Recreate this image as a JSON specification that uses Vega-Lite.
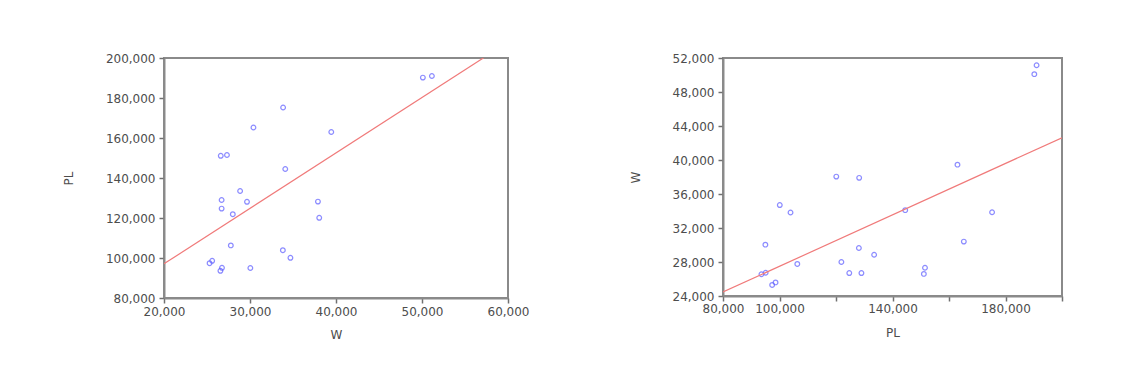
{
  "$schema": "https://vega.github.io/schema/vega-lite/v6.json",
  "background": "white",
  "padding": {"left": 61, "top": 51, "right": 10, "bottom": 10},
  "autosize": {"type": "pad"},
  "data": {
    "values": [
      {"W": 50100, "PL": 190200},
      {"W": 51150, "PL": 191000},
      {"W": 33850, "PL": 175250},
      {"W": 30400, "PL": 165250},
      {"W": 39450, "PL": 163000},
      {"W": 26600, "PL": 151100},
      {"W": 27320, "PL": 151500},
      {"W": 34100, "PL": 144500},
      {"W": 28850, "PL": 133500},
      {"W": 26700, "PL": 129000},
      {"W": 29650, "PL": 128100},
      {"W": 37900, "PL": 128200},
      {"W": 26700, "PL": 124700},
      {"W": 28000, "PL": 121900},
      {"W": 38050, "PL": 120100},
      {"W": 27770, "PL": 106300},
      {"W": 33820, "PL": 103900},
      {"W": 34700, "PL": 100100},
      {"W": 25600, "PL": 98600},
      {"W": 25300, "PL": 97400},
      {"W": 26740, "PL": 95100},
      {"W": 30040, "PL": 95000},
      {"W": 26560, "PL": 93600}
    ]
  },
  "spacing": 98,
  "hconcat": [
    {
      "width": 344,
      "height": 240,
      "view": {"fill": "white", "stroke": "#8a8a8a", "strokeWidth": 2},
      "layer": [
        {
          "mark": {"type": "point", "shape": "circle", "filled": false, "color": "#5c5cff", "size": 22, "strokeWidth": 1.2},
          "encoding": {
            "x": {"field": "W", "type": "quantitative", "scale": {"domain": [20000, 60000], "nice": false, "zero": false},
              "axis": {"values": [20000, 30000, 40000, 50000, 60000], "tickCount": 20, "format": ",d", "labelOverlap": false, "labelFontSize": 12, "title": "W", "labelPadding": 3, "titlePadding": 12}},
            "y": {"field": "PL", "type": "quantitative", "scale": {"domain": [80000, 200000], "nice": false, "zero": false},
              "axis": {"values": [80000, 100000, 120000, 140000, 160000, 180000, 200000], "tickCount": 20, "format": ",d", "labelOverlap": false, "labelFontSize": 12, "title": "PL", "labelPadding": 4, "titlePadding": 30}}
          }
        },
        {
          "transform": [{"regression": "PL", "on": "W", "extent": [20000, 60000]}],
          "mark": {"type": "line", "color": "#f07a7a", "strokeWidth": 1.2, "clip": true},
          "encoding": {
            "x": {"field": "W", "type": "quantitative"},
            "y": {"field": "PL", "type": "quantitative"}
          }
        }
      ]
    },
    {
      "width": 339,
      "height": 238,
      "view": {"fill": "white", "stroke": "#8a8a8a", "strokeWidth": 2},
      "layer": [
        {
          "mark": {"type": "point", "shape": "circle", "filled": false, "color": "#5c5cff", "size": 22, "strokeWidth": 1.2},
          "encoding": {
            "x": {"field": "PL", "type": "quantitative", "scale": {"domain": [80000, 200000], "nice": false, "zero": false},
              "axis": {"values": [80000, 100000, 120000, 140000, 160000, 180000, 200000], "tickCount": 20, "format": ",d", "labelOverlap": false, "labelFontSize": 12,
                "labelExpr": "datum.value == 120000 || datum.value == 160000 || datum.value == 200000 ? '' : datum.label",
                "title": "PL", "labelPadding": 2, "titlePadding": 13}},
            "y": {"field": "W", "type": "quantitative", "scale": {"domain": [24000, 52000], "nice": false, "zero": false},
              "axis": {"values": [24000, 28000, 32000, 36000, 40000, 44000, 48000, 52000], "tickCount": 20, "format": ",d", "labelOverlap": false, "labelFontSize": 12, "title": "W", "labelPadding": 4, "titlePadding": 30}}
          }
        },
        {
          "transform": [{"regression": "W", "on": "PL", "extent": [80000, 200000]}],
          "mark": {"type": "line", "color": "#f07a7a", "strokeWidth": 1.2, "clip": true},
          "encoding": {
            "x": {"field": "PL", "type": "quantitative"},
            "y": {"field": "W", "type": "quantitative"}
          }
        }
      ]
    }
  ],
  "config": {
    "font": "DejaVu Sans",
    "axis": {
      "grid": false,
      "labelFont": "DejaVu Sans",
      "labelFontSize": 12,
      "labelColor": "#4d4d4d",
      "labelOverlap": false,
      "labelFlush": false,
      "titleFont": "DejaVu Sans",
      "titleFontSize": 12,
      "titleFontWeight": "normal",
      "titleColor": "#4d4d4d",
      "domainColor": "#8a8a8a",
      "domainWidth": 2,
      "tickColor": "#707070",
      "tickSize": 5,
      "tickWidth": 1.5
    }
  }
}
